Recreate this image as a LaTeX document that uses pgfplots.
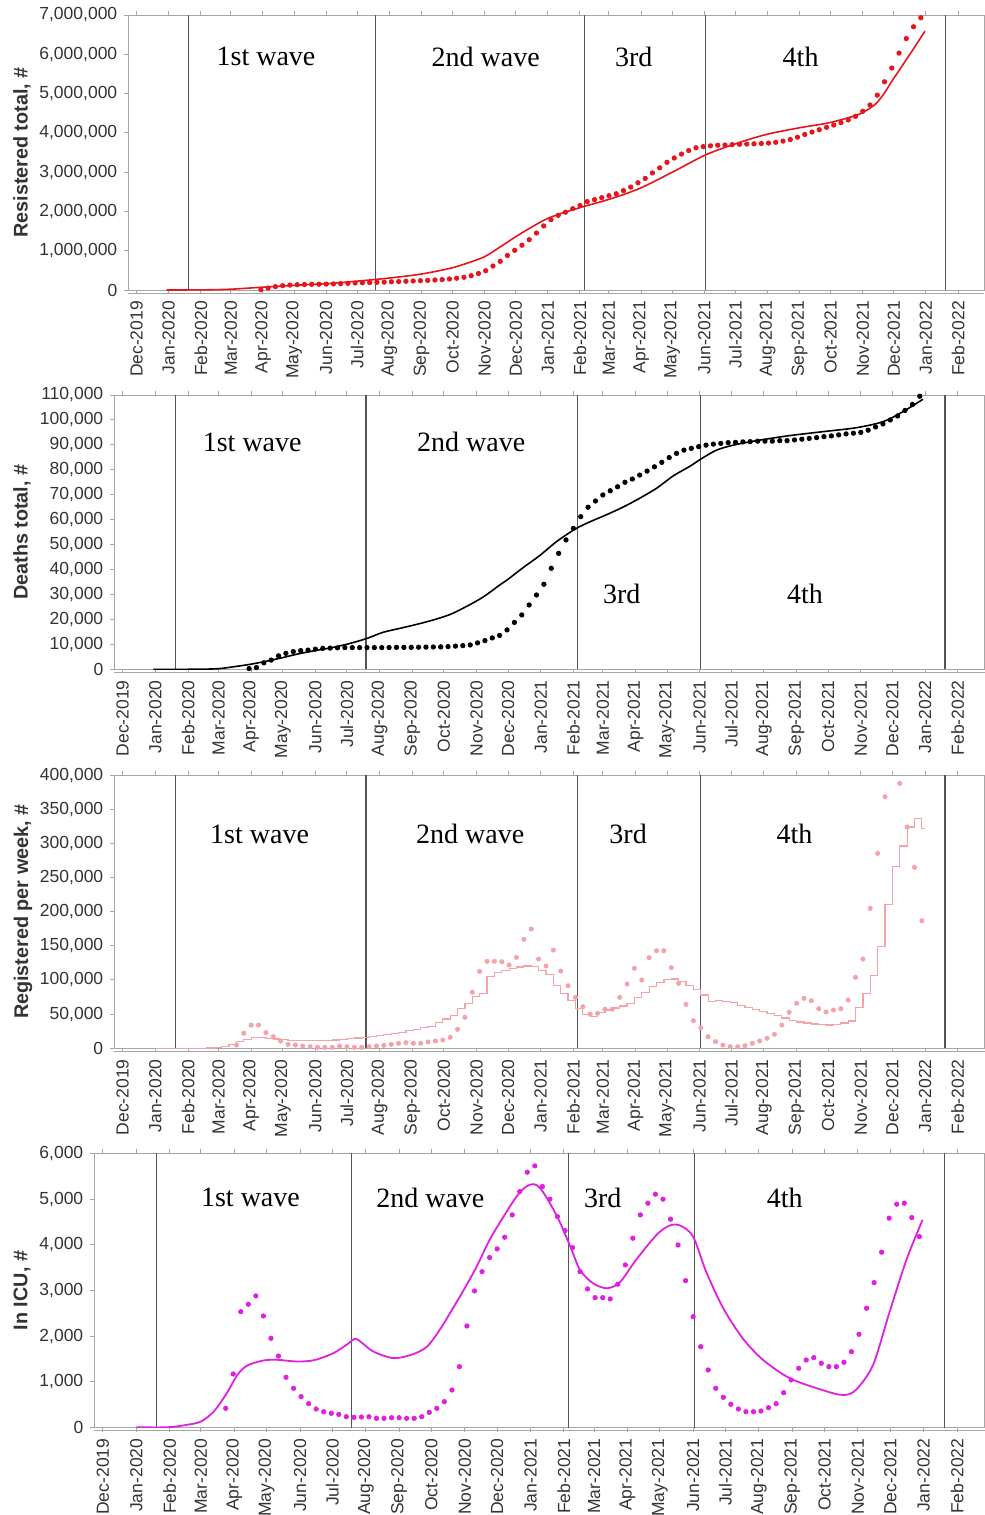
\documentclass[border=0pt]{standalone}
\usepackage{fontspec}
\setmainfont{Liberation Sans}
\newfontfamily\seriffont{Liberation Serif}
\usepackage{pgfplots}
\usepackage{pgfplotstable}
\pgfplotsset{compat=1.18}
\definecolor{boxgray}{HTML}{A6A6A6}
\definecolor{wavegray}{HTML}{555555}
\definecolor{txt}{HTML}{333333}
\definecolor{myred}{HTML}{E8141C}
\definecolor{mypink}{HTML}{F4A3A8}
\definecolor{mymag}{HTML}{E020E0}

% ---------- Panel 1: registered total ----------
\pgfplotstableread{
x y
29 0
45 1000
60 3000
75 8000
91 20000
106 45000
122 72000
137 95000
152 118000
168 140000
183 160000
198 190000
213 225000
228 262000
244 305000
259 350000
275 407000
290 480000
305 568000
320 690000
336 848000
350 1080000
365 1340000
380 1580000
395 1800000
410 1950000
431 2120000
457 2316000
486 2590000
518 3010000
549 3436000
579 3730000
608 3960000
640 4130000
669 4260000
695 4450000
705 4580000
714 4750000
722 5020000
730 5350000
746 5980000
761 6590000
}\regfit
\pgfplotstableread{
x y
120 10000
127 50000
134 85000
141 110000
148 125000
155 135000
162 140000
169 145000
176 148000
183 150000
190 155000
197 162000
204 170000
211 178000
218 185000
225 190000
232 195000
239 200000
246 208000
253 215000
260 222000
267 230000
274 237000
281 245000
288 255000
295 265000
302 280000
309 300000
316 325000
323 365000
330 420000
337 490000
344 610000
351 730000
358 880000
365 1010000
372 1140000
379 1280000
386 1450000
393 1630000
400 1790000
407 1900000
414 1980000
421 2070000
428 2150000
435 2250000
442 2300000
449 2350000
456 2400000
463 2450000
470 2530000
477 2620000
484 2730000
491 2840000
498 2980000
505 3110000
512 3250000
519 3360000
526 3460000
533 3550000
540 3620000
547 3650000
554 3670000
561 3685000
568 3690000
575 3700000
582 3710000
589 3715000
596 3720000
603 3730000
610 3740000
617 3760000
624 3790000
631 3830000
638 3890000
645 3960000
652 4020000
659 4080000
666 4140000
673 4200000
680 4260000
687 4330000
694 4420000
701 4550000
708 4710000
715 4960000
722 5300000
729 5650000
736 6030000
743 6400000
750 6700000
757 6930000
}\regdata

% ---------- Panel 2: deaths total ----------
\pgfplotstableread{
x y
29 0
60 0
89 200
105 1000
121 2000
137 3300
152 4700
168 6300
184 7600
200 8800
216 10400
232 12400
247 14800
263 16400
279 18000
295 19800
311 22000
326 25100
342 28900
358 33800
365 35800
380 40700
396 45600
412 51200
430 56300
444 59200
459 61900
475 65000
491 68600
507 72600
523 77600
539 81500
549 84300
564 87900
580 89900
602 91700
633 93700
665 95300
697 96900
722 99300
741 103300
760 108300
}\deathfit
\pgfplotstableread{
x y
120 300
127 700
134 2600
141 3700
148 5400
155 6400
162 7100
169 7500
176 7700
183 8100
190 8400
197 8500
204 8600
211 8700
218 8700
225 8700
232 8700
239 8700
246 8700
253 8750
260 8800
267 8800
274 8800
281 8850
288 8900
295 8950
302 9000
309 9100
316 9300
323 9500
330 9750
337 10600
344 11500
351 12600
358 13600
365 15800
372 18800
379 21800
386 25800
393 29800
400 34100
407 40500
414 46500
421 51900
428 56500
435 61200
442 65000
449 67500
456 69900
463 71600
470 73200
477 75000
484 76300
491 77900
498 79500
505 81200
512 83000
519 84900
526 86600
533 87900
540 88600
547 89300
554 89900
561 90300
568 90600
575 90900
582 91000
589 91200
596 91300
603 91500
610 91500
617 91500
624 91700
631 91700
638 92000
645 92300
652 92600
659 92900
666 93300
673 93600
680 94000
687 94400
694 94700
701 95000
708 95900
715 97200
722 98400
729 100000
736 101600
743 103800
750 106200
757 109500
}\deathdata

% ---------- Panel 3: registered per week ----------
\pgfplotstableread{
x y
31 0
38 0
45 0
52 0
59 0
66 0
73 0
80 500
87 1500
94 3000
101 6000
108 10000
115 13000
122 16000
129 15600
136 14500
143 13500
150 12500
157 12000
164 11500
171 11200
178 11200
185 11200
192 11500
199 12200
206 13000
213 14000
220 15000
227 16000
234 17500
241 18500
248 20000
255 21500
262 23500
269 25500
276 27500
283 30000
290 32500
297 38000
304 43000
311 48000
318 58000
325 66000
332 76000
339 80000
346 105000
353 111000
360 114000
367 117000
374 119000
381 120500
388 119500
395 114000
402 108000
409 92000
416 80000
423 70000
430 58000
437 50000
444 47000
451 52000
458 56000
465 59000
472 62000
479 66000
486 74000
493 82000
500 90000
507 96000
514 100500
521 101500
528 98000
535 92000
542 86000
549 78000
556 68000
563 70500
570 69000
577 67000
584 63000
591 60000
598 57000
605 54000
612 51000
619 48000
626 44500
633 41000
640 38500
647 37000
654 35500
661 34500
668 34000
675 35000
682 37000
689 40000
696 60000
703 80500
710 107000
717 149000
724 210000
731 266000
738 296000
745 324000
752 336500
759 322000
762 322000
}\weekfit
\pgfplotstableread{
x y
108 4800
115 22000
122 34000
129 34000
136 23000
143 17000
150 10700
157 5800
164 4800
171 3400
178 2400
185 1400
192 1400
199 1400
206 3400
213 2400
220 1400
227 1400
234 2400
241 3400
248 4300
255 5800
262 7300
269 8300
276 7300
283 7300
290 9300
297 10700
304 12200
311 16100
318 27800
325 45400
332 82000
339 112600
346 127300
353 127300
360 126700
367 121900
374 133100
381 159500
388 174600
395 130700
402 120400
409 143800
416 113100
423 91600
430 74600
437 60900
444 50200
451 51200
458 57100
465 57100
472 74600
479 94100
486 117100
493 100000
500 132600
507 142800
514 142800
521 118000
528 95000
535 64400
542 40400
549 30100
556 17000
563 9700
570 4800
577 2400
584 2400
591 3800
598 7300
605 10700
612 14600
619 20500
626 34100
633 52700
640 65900
647 73200
654 69700
661 58000
668 53100
675 56000
682 58000
689 70700
696 103900
703 130700
710 204900
717 285400
724 368200
738 387800
745 324000
752 264900
759 186700
}\weekdata

% ---------- Panel 4: ICU ----------
\pgfplotstableread{
x y
31 10
60 10
78 63
91 136
103 355
115 756
125 1160
134 1360
149 1470
162 1485
180 1448
196 1477
214 1630
227 1827
234 1944
239 1886
251 1667
270 1521
288 1609
301 1776
313 2150
324 2575
335 3013
347 3523
359 4107
372 4617
384 5054
393 5273
400 5326
406 5238
415 4910
424 4508
434 3960
443 3450
455 3159
468 3050
480 3181
495 3670
514 4216
526 4420
536 4420
548 4180
560 3414
576 2611
594 1955
613 1481
638 1079
668 824
687 715
699 824
715 1371
730 2502
746 3670
761 4545
}\icufit
\pgfplotstableread{
x y
114 424
121 1175
128 2538
135 2700
142 2881
149 2444
156 1955
163 1568
170 1102
177 861
184 679
191 526
198 409
205 350
212 315
219 292
226 241
233 226
240 234
247 241
254 205
261 205
268 219
275 219
282 205
289 205
296 241
303 336
310 424
317 569
324 825
331 1335
338 2225
345 2991
352 3413
359 3720
366 3910
373 4166
380 4654
387 5164
394 5588
401 5726
408 5273
415 4998
422 4617
429 4310
436 3938
443 3413
450 3035
457 2844
464 2844
471 2816
478 3138
485 3560
492 4144
499 4654
506 4910
513 5107
520 4998
527 4560
534 3997
541 3216
548 2429
555 1772
562 1262
569 862
576 665
583 512
590 409
597 350
604 350
611 365
618 438
625 525
632 766
639 1044
646 1300
653 1481
660 1532
667 1409
674 1335
681 1335
688 1431
695 1663
702 2044
709 2612
716 3173
723 3838
730 4582
737 4888
744 4910
751 4595
758 4179
}\icudata

\newcommand\ticksize{\fontsize{8.75}{10}\selectfont}
\tikzset{
  wave/.style={wavegray, line width=0.6pt},
  wl/.style={font=\seriffont\fontsize{14}{16}\selectfont, text=black},
}
\pgfplotsset{
  panel/.style={
    scale only axis,
    anchor=south west,
    xmin=-8, xmax=818.5, ymin=0,
    axis line style={boxgray, line width=0.5pt},
    tick style={boxgray, line width=0.5pt},
    tick align=outside,
    major tick length=2pt,
    xtick={0,31,62,91,122,152,183,213,244,275,305,336,366,397,428,456,487,517,548,578,609,640,670,701,731,762,793},
    xticklabels={Dec-2019,Jan-2020,Feb-2020,Mar-2020,Apr-2020,May-2020,Jun-2020,Jul-2020,Aug-2020,Sep-2020,Oct-2020,Nov-2020,Dec-2020,Jan-2021,Feb-2021,Mar-2021,Apr-2021,May-2021,Jun-2021,Jul-2021,Aug-2021,Sep-2021,Oct-2021,Nov-2021,Dec-2021,Jan-2022,Feb-2022},
    xticklabel style={rotate=90, anchor=east, font=\ticksize, text=txt},
    yticklabel style={font=\ticksize, text=txt},
    scaled y ticks=false,
    y tick label style={/pgf/number format/.cd, fixed, 1000 sep={,}, assume math mode=true},
    ylabel style={font=\bfseries\fontsize{9.9}{11}\selectfont, text=txt, anchor=center},
    minor tick num=0,
  },
  dots/.style={only marks, mark=*, mark size=1.1pt, color=#1, mark options={draw=none, fill=#1}},
}

\begin{document}
\begin{tikzpicture}
\useasboundingbox (0,0) rectangle (492.5pt,-757.5pt);

% ---------------- Panel 1 ----------------
\begin{axis}[panel, name=p1, at={(64.15pt,-145pt)}, width=428.1pt, height=137.5pt,
  ymax=7000000, ytick={0,1000000,...,7000000},
  ylabel={Resistered total, \#},
  ylabel style={at={([xshift=-53.15pt]rel axis cs:0,0.5)}}]
\addplot[wave] coordinates {(50,0) (50,7000000)};
\addplot[wave] coordinates {(231,0) (231,7000000)};
\addplot[wave] coordinates {(432,0) (432,7000000)};
\addplot[wave] coordinates {(549,0) (549,7000000)};
\addplot[wave] coordinates {(781,0) (781,7000000)};
\addplot[myred, line width=0.8pt, smooth] table {\regfit};
\addplot[dots=myred] table {\regdata};
\node[wl] at (axis cs:125,5940000) {1st wave};
\node[wl] at (axis cs:337,5940000) {2nd wave};
\node[wl] at (axis cs:480,5940000) {3rd};
\node[wl] at (axis cs:641,5940000) {4th};
\end{axis}

% ---------------- Panel 2 ----------------
\begin{axis}[panel, name=p2, at={(57.15pt,-334.65pt)}, width=435.1pt, height=137.15pt,
  ymax=110000, ytick={0,10000,...,110000},
  ylabel={Deaths total, \#},
  ylabel style={at={([xshift=-46.15pt]rel axis cs:0,0.5)}}]
\addplot[wave] coordinates {(50,0) (50,110000)};
\addplot[wave] coordinates {(231,0) (231,110000)};
\addplot[wave] coordinates {(432,0) (432,110000)};
\addplot[wave] coordinates {(549,0) (549,110000)};
\addplot[wave] coordinates {(781,0) (781,110000)};
\addplot[black, line width=0.8pt, smooth] table {\deathfit};
\addplot[dots=black] table {\deathdata};
\node[wl] at (axis cs:123,91100) {1st wave};
\node[wl] at (axis cs:331,91100) {2nd wave};
\node[wl] at (axis cs:474,30100) {3rd};
\node[wl] at (axis cs:648,30100) {4th};
\end{axis}

% ---------------- Panel 3 ----------------
\begin{axis}[panel, name=p3, at={(57.15pt,-524.15pt)}, width=435.1pt, height=136.65pt,
  ymax=400000, ytick={0,50000,...,400000},
  ylabel={Registered per week, \#},
  ylabel style={at={([xshift=-45.65pt]rel axis cs:0,0.5)}}]
\addplot[wave] coordinates {(50,0) (50,400000)};
\addplot[wave] coordinates {(231,0) (231,400000)};
\addplot[wave] coordinates {(432,0) (432,400000)};
\addplot[wave] coordinates {(549,0) (549,400000)};
\addplot[wave] coordinates {(781,0) (781,400000)};
\addplot[mypink, line width=0.6pt, const plot mark left] table {\weekfit};
\addplot[dots=mypink, mark size=1.05pt] table {\weekdata};
\node[wl] at (axis cs:130,313600) {1st wave};
\node[wl] at (axis cs:330,313600) {2nd wave};
\node[wl] at (axis cs:480,313600) {3rd};
\node[wl] at (axis cs:638,313600) {4th};
\end{axis}

% ---------------- Panel 4 ----------------
\begin{axis}[panel, name=p4, at={(47.15pt,-713.85pt)}, width=445.1pt, height=137.2pt,
  ymax=6000, ytick={0,1000,...,6000},
  ylabel={In ICU, \#},
  ylabel style={at={([xshift=-36.15pt]rel axis cs:0,0.5)}}]
\addplot[wave] coordinates {(50,0) (50,6000)};
\addplot[wave] coordinates {(231,0) (231,6000)};
\addplot[wave] coordinates {(432,0) (432,6000)};
\addplot[wave] coordinates {(549,0) (549,6000)};
\addplot[wave] coordinates {(781,0) (781,6000)};
\addplot[mymag, line width=0.9pt, smooth] table {\icufit};
\addplot[dots=mymag] table {\icudata};
\node[wl] at (axis cs:137,5026) {1st wave};
\node[wl] at (axis cs:304,5026) {2nd wave};
\node[wl] at (axis cs:464,5026) {3rd};
\node[wl] at (axis cs:633,5026) {4th};
\end{axis}

\foreach \p in {p1,p2,p3,p4}{
  \draw[boxgray, line width=0.5pt] ([yshift=-1.5pt]\p.south west) -- ([yshift=-1.5pt]\p.south east);
}
\end{tikzpicture}
\end{document}
